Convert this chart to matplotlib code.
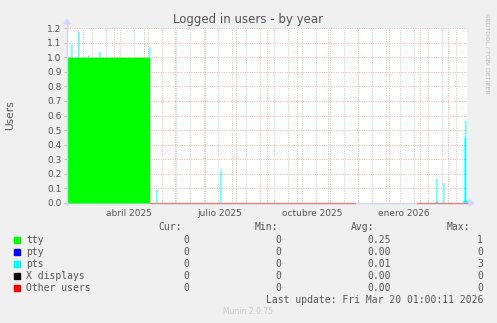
import matplotlib
matplotlib.use("Agg")
import matplotlib.pyplot as plt
from matplotlib.lines import Line2D
from matplotlib.patches import Rectangle, Polygon
import numpy as np
from datetime import datetime, timedelta

# --- data ---
end = datetime(2026, 3, 20, 1, 0, 11)
start = end - timedelta(days=400)

tty_from = datetime(2025, 2, 13)
tty_to = datetime(2025, 5, 7)
tty_level = 1.0

pts_days = ["2025-02-17", "2025-02-24", "2025-03-06", "2025-03-17", "2025-05-06",
            "2025-05-13", "2025-07-16", "2026-02-16", "2026-02-17", "2026-02-18",
            "2026-02-24", "2026-03-16", "2026-03-17", "2026-03-18", "2026-03-19"]
pts_vals = [0.09, 0.18, 0.015, 0.04, 0.07,
            0.095, 0.23, 0.01, 0.17, 0.01,
            0.14, 0.02, 0.45, 0.57, 0.02]

gap_from = datetime(2025, 11, 28)
gap_to = datetime(2026, 1, 29)

month_labels = ["abril 2025", "julio 2025", "octubre 2025", "enero 2026"]
month_label_days = ["2025-04-16", "2025-07-16", "2025-10-16", "2026-01-16"]
yticks = [i / 10 for i in range(13)]

names = ["tty", "pty", "pts", "X displays", "Other users"]
colors = ["#00FF00", "#0000FF", "#00FFFF", "#000000", "#FF0000"]
cur = ["0", "0", "0", "0", "0"]
mins = ["0", "0", "0", "0", "0"]
avgs = ["0.25", "0.00", "0.01", "0.00", "0.00"]
maxs = ["1", "0", "3", "0", "0"]

# --- figure ---
W, H = 497, 323
fig = plt.figure(figsize=(W / 100, H / 100), dpi=100, facecolor="#F0F0F0")
fx = lambda px: px / W
fy = lambda py: 1 - py / H

ax = fig.add_axes([fx(67), fy(203), 400 / W, 175 / H])
ax.set_facecolor("white")
for s in ax.spines.values():
    s.set_visible(False)

ax.set_xlim(start, end)
ax.set_ylim(0, 1.2)

# grid
grid_red = "#EDBDBD"
grid_gray = "#D4D4D4"
d = datetime(2025, 6, 30)
while d > start:
    d -= timedelta(days=14)
while d < end:
    if d > start:
        ax.axvline(d, color=grid_gray, lw=0.7, ls=(0, (1.2, 1.2)), zorder=0)
    d += timedelta(days=14)
m = datetime(2025, 3, 1)
while m < end:
    ax.axvline(m, color=grid_red, lw=0.7, ls=(0, (1.2, 1.2)), zorder=0.5)
    m = datetime(m.year + (m.month // 12), m.month % 12 + 1, 1)
for y in yticks[1:]:
    ax.axhline(y, color=grid_red, lw=0.7, ls=(0, (1.2, 1.2)), zorder=0.5)

# series
days = np.array([datetime(2025, 2, 13) + timedelta(days=k) for k in range(402)])
tty = np.array([tty_level if tty_from <= dd < tty_to else 0.0 for dd in days])
pts = np.zeros(len(days))
for ds, v in zip(pts_days, pts_vals):
    dd = datetime.strptime(ds, "%Y-%m-%d")
    pts[(days == dd)] = v
known = np.array([not (gap_from <= dd < gap_to) for dd in days])

ax.fill_between(days, 0, tty, step="post", color=colors[0], lw=0, zorder=2)
ax.fill_between(days, tty, tty + pts, step="post", color=colors[2], lw=0, zorder=2)
zero_line = np.where(known & (tty == 0), 0.0, np.nan)
ax.step(days, zero_line, where="post", color="#E88080", lw=1.0, zorder=3,
        clip_on=False)

# ticks
ax.set_yticks(yticks)
ax.set_yticklabels(["%.1f" % v for v in yticks])
ax.set_xticks([datetime.strptime(s, "%Y-%m-%d") for s in month_label_days])
ax.set_xticklabels(month_labels)
ax.tick_params(axis="y", length=2, width=0.6, color="#E8A0A0", labelsize=6.5,
               labelcolor="#555555", pad=2)
ax.tick_params(axis="x", length=0, labelsize=6.5, labelcolor="#555555", pad=4)

# axis lines + arrows
axis_col = "#CFD6F8"
fig.add_artist(Line2D([fx(67), fx(67)], [fy(205), fy(24)], color=axis_col, lw=1))
fig.add_artist(Polygon([[fx(64), fy(24)], [fx(70), fy(24)], [fx(67), fy(19)]],
                       closed=True, color=axis_col))
fig.add_artist(Line2D([fx(64), fx(469)], [fy(203), fy(203)], color=axis_col, lw=1,
                      zorder=0))
fig.add_artist(Polygon([[fx(469), fy(200)], [fx(469), fy(206)], [fx(474), fy(203)]],
                       closed=True, color=axis_col))

# texts
fig.text(fx(248), fy(19), "Logged in users - by year", ha="center", va="center",
         fontsize=8.5, color="#555555")
fig.text(fx(10), fy(115), "Users", ha="center", va="center", rotation=90,
         fontsize=7.7, color="#555555")
fig.text(fx(487), fy(53), "RRDTOOL / TOBI OETIKER", ha="center", va="center",
         rotation=270, fontsize=4.5, color="#BBBBBB")

mono = "DejaVu Sans Mono"
fs = 7
txt = "#555555"
header_y = 227.5
for label, xr in zip(["Cur:", "Min:", "Avg:", "Max:"], [182, 278, 374, 470]):
    fig.text(fx(xr), fy(header_y), label, ha="right", va="center", family=mono,
             fontsize=fs, color=txt)
for i, name in enumerate(names):
    yy = 240 + 12 * i
    fig.add_artist(Rectangle((fx(14), fy(yy + 3)), 6 / W, 6 / H, color=colors[i]))
    fig.text(fx(26), fy(yy), name, ha="left", va="center", family=mono,
             fontsize=fs, color=txt)
    for col, xr in zip([cur, mins, avgs, maxs], [189, 281, 391, 483]):
        fig.text(fx(xr), fy(yy), col[i], ha="right", va="center", family=mono,
                 fontsize=fs, color=txt)
fig.text(fx(483), fy(300), "Last update: Fri Mar 20 01:00:11 2026", ha="right",
         va="center", family=mono, fontsize=fs, color=txt)
fig.text(fx(248), fy(312), "Munin 2.0.75", ha="center", va="center",
         fontsize=5.5, color="#C8C8C8")

fig.savefig("out.png", dpi=100, facecolor=fig.get_facecolor())
